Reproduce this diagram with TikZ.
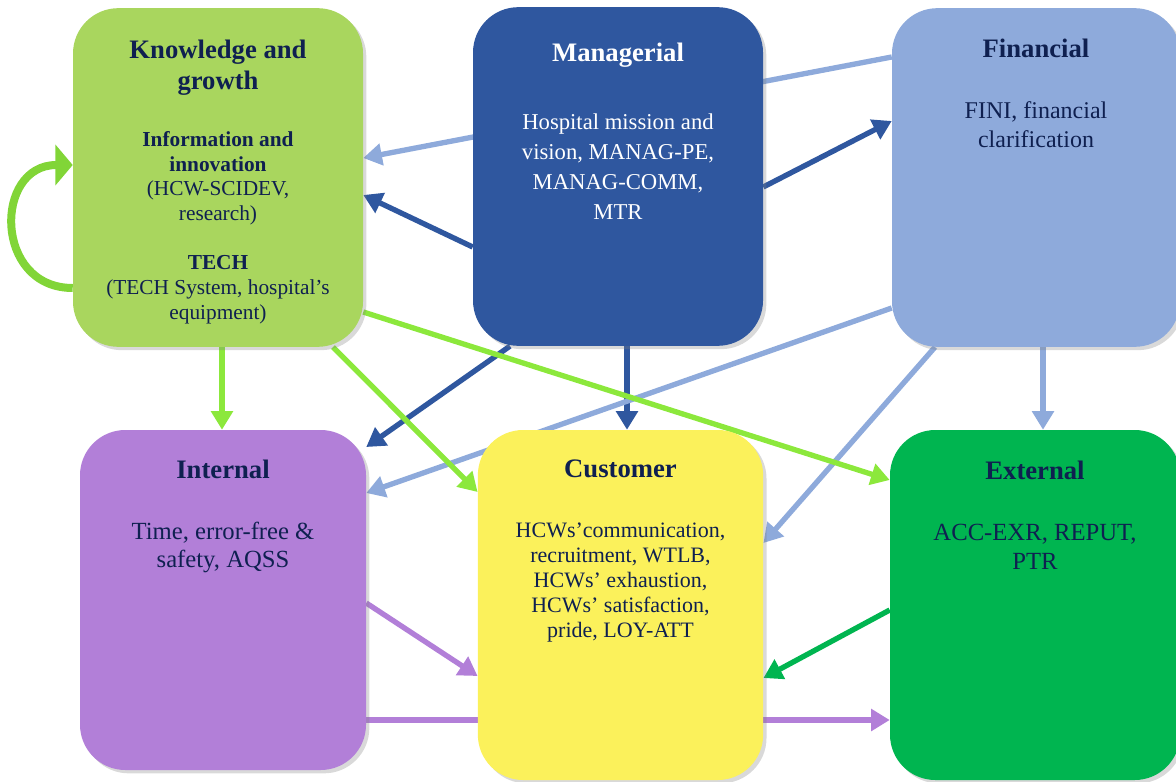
\documentclass[tikz,border=0pt]{standalone}
\usepackage{fontspec}
\setmainfont{Liberation Serif}
\usetikzlibrary{positioning,arrows.meta,shadows,backgrounds}

\definecolor{kgreen}{HTML}{A9D65E}
\definecolor{mblue}{HTML}{2F579F}
\definecolor{fblue}{HTML}{8EAADB}
\definecolor{ipurple}{HTML}{B27FD8}
\definecolor{cyellow}{HTML}{FBF15B}
\definecolor{egreen}{HTML}{00B550}
\definecolor{arrlime}{HTML}{8CE83C}
\definecolor{txtnavy}{HTML}{0F2050}

\begin{document}
\begin{tikzpicture}[x=0.75pt, y=-0.75pt,
  box/.style={rectangle, rounded corners=34pt, inner sep=0pt, minimum width=217.5pt, minimum height=254pt,
    drop shadow={opacity=0.3, shadow xshift=2.5pt, shadow yshift=-2.5pt}},
  title/.style={inner sep=0pt, align=center, text=txtnavy, font=\fontsize{20}{23.25}\selectfont\bfseries},
  body/.style={inner sep=0pt, align=center, text=txtnavy},
  conn/.style={line width=4pt, -{Triangle[length=14pt,width=16pt]}}]

  \useasboundingbox (0,0) rectangle (1176,781);

  % the six perspectives
  \node[box, fill=kgreen] (know) at (218,177.5) {};
  \node[box, fill=mblue] (mgr) at (618,176.5) {};
  \node[box, fill=fblue, minimum width=216pt] (fin) at (1036,177.5) {};
  \node[box, fill=ipurple, minimum width=214.5pt, minimum height=255pt] (intl) at (223,600) {};
  \node[box, fill=cyellow, minimum width=214pt, minimum height=262.5pt] (cust) at (620.5,605) {};
  \node[box, fill=egreen, minimum height=262.5pt] (ext) at (1035,605) {};

  \node[title] (know-t) [below=23.5pt of know.north] {Knowledge and\\growth};
  \node[body, font=\fontsize{16}{18.4}\selectfont] (know-b) [below=92.5pt of know.north]
    {\textbf{Information and}\\\textbf{innovation}\\(HCW-SCIDEV,\\research)\\[19pt]\textbf{TECH}\\(TECH System, hospital’s\\equipment)};

  \node[title, text=white] (mgr-t) [below=26.7pt of mgr.north] {Managerial};
  \node[body, text=white, font=\fontsize{17}{22.5}\selectfont] (mgr-b) [below=80pt of mgr.north]
    {Hospital mission and\\vision, MANAG-PE,\\MANAG-COMM,\\MTR};

  \node[title] (fin-t) [below=23.2pt of fin.north] {Financial};
  \node[body, font=\fontsize{18}{21.75}\selectfont] (fin-b) [below=70pt of fin.north]
    {FINI, financial\\clarification};

  \node[title] (intl-t) [below=22.5pt of intl.north] {Internal};
  \node[body, font=\fontsize{18.5}{21}\selectfont] (intl-b) [below=69pt of intl.north]
    {Time, error-free \&\\safety, AQSS};

  \node[title] (cust-t) [below=22.5pt of cust.north] {Customer};
  \node[body, font=\fontsize{16.5}{18.75}\selectfont] (cust-b) [below=69.8pt of cust.north]
    {HCWs’communication,\\recruitment, WTLB,\\HCWs’ exhaustion,\\HCWs’ satisfaction,\\pride, LOY-ATT};

  \node[title] (ext-t) [below=23.2pt of ext.north] {External};
  \node[body, font=\fontsize{18.5}{21.75}\selectfont] (ext-b) [below=70.3pt of ext.north]
    {ACC-EXR, REPUT,\\PTR};

  \begin{scope}[on background layer]
    % from managerial
    \draw[conn, mblue] (mgr.west |- 0,247) -- (know.east |- 0,195);
    \draw[conn, mblue] (mgr.east |- 0,187) -- (fin.west |- 0,121);
    \draw[conn, mblue] (mgr.south -| 510,0) -- (intl.east |- 0,447);
    \draw[conn, mblue] (mgr.south -| 627,0) -- (cust.north -| 627,0);

    % from financial
    \draw[conn, fblue] (fin.west |- 0,57) -- (know.east |- 0,158);
    \draw[conn, fblue] (fin.west |- 0,308) -- (intl.east |- 0,493);
    \draw[conn, fblue] (fin.south -| 935,0) -- (cust.east |- 0,543);
    \draw[conn, fblue] (fin.south -| 1043,0) -- (ext.north -| 1043,0);

    % from knowledge and growth
    \draw[conn, arrlime] (know.south -| 222,0) -- (intl.north -| 222,0);
    \draw[conn, arrlime] (know.south -| 333,0) -- (cust.west |- 0,492);
    \draw[conn, arrlime] (know.east |- 0,312) -- (ext.west |- 0,480);
    \draw[line width=6pt, arrlime!92!black, -{Triangle[length=13pt,width=30pt]}]
      (know.west |- 0,288) to[out=180, in=180, looseness=1.65] (know.west |- 0,165);

    % from internal and external
    \draw[conn, ipurple] (intl.east |- 0,603) -- (cust.west |- 0,676);
    \draw[conn, ipurple] (intl.east |- 0,720) -- (ext.west |- 0,720);
    \draw[conn, egreen] (ext.west |- 0,610) -- (cust.east |- 0,678);
  \end{scope}

\end{tikzpicture}
\end{document}
